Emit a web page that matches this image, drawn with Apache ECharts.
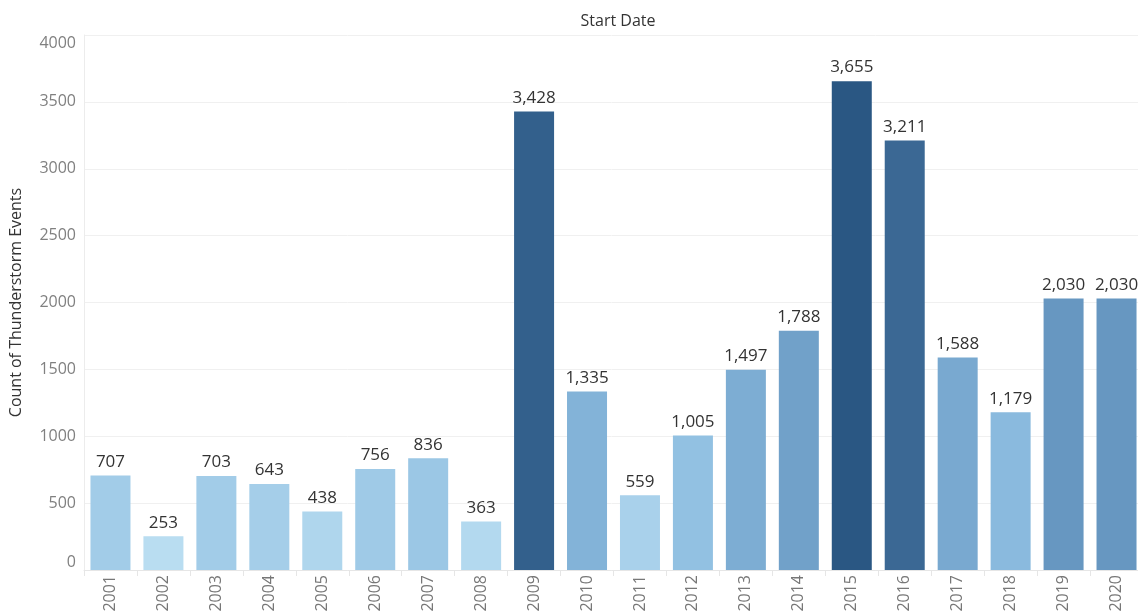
<!DOCTYPE html>
<html>
<head>
<meta charset="utf-8">
<script src="https://cdn.jsdelivr.net/npm/echarts@6/dist/echarts.min.js"></script>
<style>
  html, body { margin: 0; padding: 0; background: #fff; }
  #chart { width: 1138px; height: 613px; }
</style>
</head>
<body>
<div id="chart"></div>
<script>
// Thunderstorm events per year
const years = ['2001','2002','2003','2004','2005','2006','2007','2008','2009','2010',
               '2011','2012','2013','2014','2015','2016','2017','2018','2019','2020'];
const counts = [707, 253, 703, 643, 438, 756, 836, 363, 3428, 1335,
                559, 1005, 1497, 1788, 3655, 3211, 1588, 1179, 2030, 2030];
const yTicks = { min: 0, max: 4000, step: 500 };

// Sequential blue ramp, light for low counts, dark for high counts
const ramp = ['#b9ddf1', '#8dbde0', '#6a9ac4', '#4a77a3', '#2a5783'];

const FONT = '"Open Sans", "Noto Sans", sans-serif';
const chart = echarts.init(document.getElementById('chart'), null, { renderer: 'canvas' });

chart.setOption({
  animation: false,
  textStyle: { fontFamily: FONT },
  title: {
    text: 'Start Date',
    left: 613,
    top: 8,
    textAlign: 'center',
    textStyle: { fontSize: 16, fontWeight: 'normal', color: '#333', fontFamily: FONT }
  },
  grid: { left: 84, top: 35, width: 1059, height: 535, containLabel: false, outerBoundsMode: 'none' },
  visualMap: {
    show: false,
    type: 'continuous',
    min: Math.min(...counts),
    max: Math.max(...counts),
    inRange: { color: ramp },
    seriesIndex: 0
  },
  xAxis: {
    type: 'category',
    data: years,
    axisLine: { show: true, lineStyle: { color: '#e6e6e6' } },
    axisTick: { show: true, length: 6, lineStyle: { color: '#e6e6e6' } },
    axisLabel: { rotate: 90, margin: 5, fontSize: 16, color: '#777', fontFamily: FONT },
    splitLine: { show: false }
  },
  yAxis: {
    type: 'value',
    min: yTicks.min,
    max: yTicks.max,
    interval: yTicks.step,
    name: 'Count of Thunderstorm Events',
    nameLocation: 'middle',
    nameGap: 60,
    nameTextStyle: { fontSize: 16, color: '#333', fontFamily: FONT },
    axisLine: { show: true, lineStyle: { color: '#ececec' } },
    axisTick: { show: false },
    axisLabel: {
      fontSize: 16, color: '#808080', margin: 8, fontFamily: FONT,
      formatter: v => String(v),
      verticalAlignMinLabel: 'bottom',
      verticalAlignMaxLabel: 'top'
    },
    splitLine: { show: true, lineStyle: { color: '#f0f0f0' } }
  },
  series: [{
    type: 'bar',
    data: counts,
    barWidth: 40,
    label: {
      show: true,
      position: 'top',
      distance: 5,
      fontSize: 17,
      color: '#333',
      fontFamily: FONT,
      formatter: p => p.value.toLocaleString('en-US')
    }
  }]
});
</script>
</body>
</html>
